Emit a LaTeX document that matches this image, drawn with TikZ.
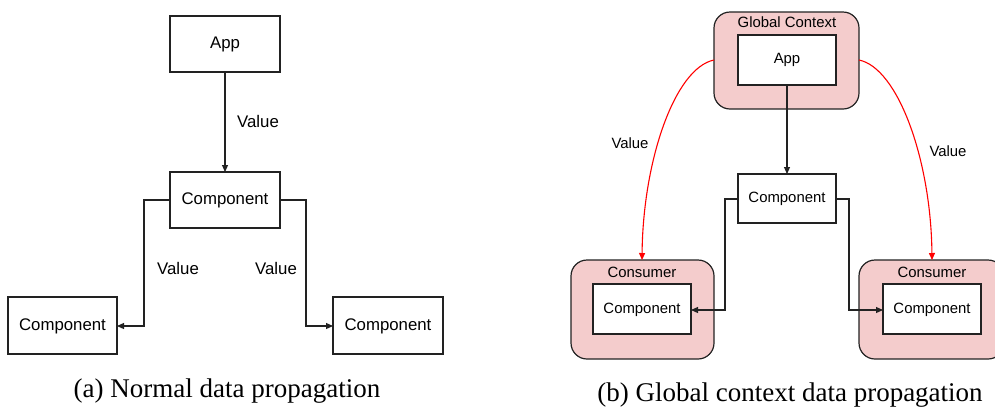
\documentclass[tikz,border=0pt]{standalone}
\usepackage{fontspec}
\newfontfamily\arialf{Liberation Sans}
\newfontfamily\capf{Liberation Serif}
\usetikzlibrary{arrows.meta}
\definecolor{pinkfill}{HTML}{F4CCCC}
\definecolor{edge}{HTML}{222222}
\begin{document}
\begin{tikzpicture}[x=1pt,y=-1pt,
  box/.style={draw=edge,line width=1.2pt,fill=white},
  ctx/.style={draw=edge,line width=1.2pt,fill=pinkfill,rounded corners=16pt},
  lbl/.style={font=\arialf\fontsize{16.8}{18}\selectfont,inner sep=0pt},
  lblb/.style={font=\arialf\fontsize{14.9}{16}\selectfont,inner sep=0pt},
  conn/.style={draw=edge,line width=1.1pt,-{Triangle[length=7pt,width=6pt]}},
  redarrow/.style={draw=red,line width=1.1pt,-{Triangle[length=7pt,width=6pt]}},
  captxt/.style={font=\capf\fontsize{27}{30}\selectfont,inner sep=0pt,anchor=base}]
\useasboundingbox (0,0) rectangle (995,408);
% ---------- (a) ----------
\draw[box] (170,16) rectangle (280,72);
\node[lbl] (appa) at (225,44) {App};
\coordinate (appab) at (225,72);
\draw[box] (170,172) rectangle (280,228);
\node[lbl] (compa) at (225,200) {Component};
\coordinate (compat) at (225,172);
\coordinate (compal) at (170,200);
\coordinate (compar) at (280,200);
\draw[box] (8,297) rectangle (117,354);
\node[lbl] (bla) at (62.5,326) {Component};
\coordinate (blar) at (117,326);
\draw[box] (333,297) rectangle (443,354);
\node[lbl] (bra) at (388,326) {Component};
\coordinate (bral) at (333,326);
\draw[conn] (appab) -- (compat);
\draw[conn] (compal) -| (144,326) -- (blar);
\draw[conn] (compar) -| (306,326) -- (bral);
\node[lbl] (va1) at (258,121) {Value};
\node[lbl] (va2) at (178,268) {Value};
\node[lbl] (va3) at (276,268) {Value};
\node[captxt] (capa) at (227,397) {(a) Normal data propagation};
% ---------- (b) ----------
\draw[ctx] (714,12) rectangle (859,109);
\node[lblb] (gctx) at (787,22) {Global Context};
\draw[box] (738,35) rectangle (836,85);
\node[lblb] (appb) at (787,60) {App};
\coordinate (appbb) at (787,85);
\coordinate (gl) at (714,60);
\coordinate (gr) at (859,60);
\draw[box] (738,174) rectangle (836,223);
\node[lblb] (compb) at (787,199) {Component};
\coordinate (compbt) at (787,174);
\coordinate (compbl) at (738,199);
\coordinate (compbr) at (836,199);
\draw[ctx] (571,260) rectangle (714,359);
\node[lblb] (cons1) at (642,272) {Consumer};
\draw[box] (593,284) rectangle (691,334);
\node[lblb] (c1) at (642,310) {Component};
\coordinate (c1r) at (691,310);
\coordinate (cons1t) at (642,260);
\draw[ctx] (859,260) rectangle (1004,359);
\node[lblb] (cons2) at (932,272) {Consumer};
\draw[box] (883,284) rectangle (981,334);
\node[lblb] (c2) at (932,310) {Component};
\coordinate (c2l) at (883,310);
\coordinate (cons2t) at (932,260);
\draw[conn] (appbb) -- (compbt);
\draw[conn] (compbl) -| (725,310) -- (c1r);
\draw[conn] (compbr) -| (849,310) -- (c2l);
\draw[redarrow] (gl) .. controls (675,68) and (643,160) .. (cons1t);
\draw[redarrow] (gr) .. controls (898,68) and (931,160) .. (cons2t);
\node[lblb] (vb1) at (630,143) {Value};
\node[lblb] (vb2) at (948,151) {Value};
\node[captxt] (capb) at (790,401) {(b) Global context data propagation};
\end{tikzpicture}
\end{document}
